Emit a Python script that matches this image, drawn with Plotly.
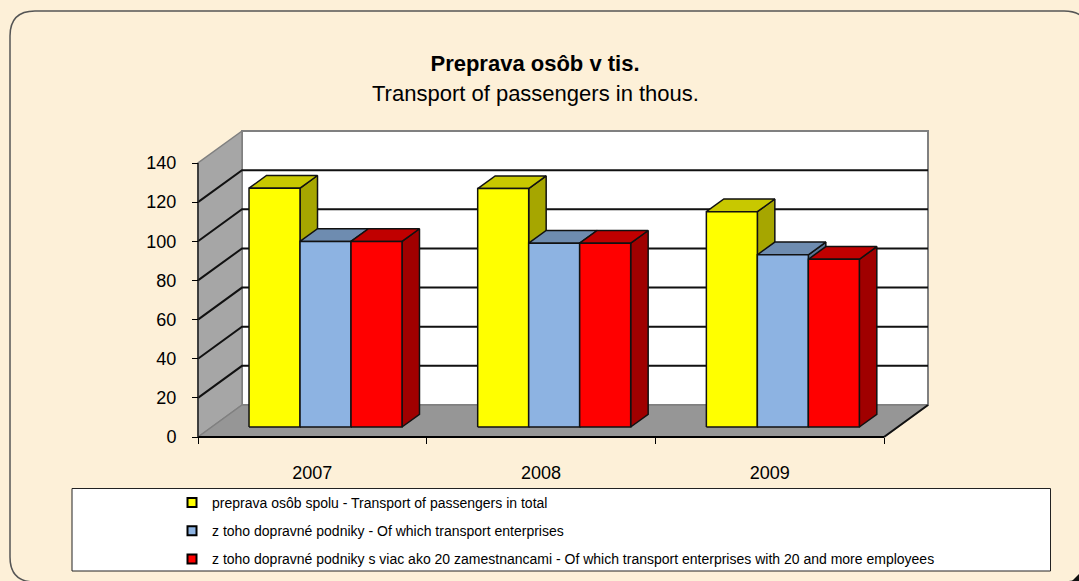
import plotly.graph_objects as go

# ---- data ----
years = ["2007", "2008", "2009"]
names = [
    "preprava osôb spolu - Transport of passengers in total",
    "z toho dopravné podniky - Of which transport enterprises",
    "z toho dopravné podniky s viac ako 20 zamestnancami - Of which transport enterprises with 20 and more employees",
]
total = [122.0, 121.8, 110.0]
enterprises = [94.8, 93.9, 88.0]
enterprises_20 = [94.8, 93.9, 85.7]
y_ticks = [0, 20, 40, 60, 80, 100, 120, 140]

series = [total, enterprises, enterprises_20]
front_colors = ["#FFFF00", "#8DB3E2", "#FF0000"]
top_colors = ["#C8C800", "#6E8CB0", "#C00000"]
side_colors = ["#A6A600", "#5C7594", "#A00000"]

# ---- page and 3D look ----
W, H = 1079, 581
L, R, T, B = 198, 884, 163, 437         # front axes box in page pixels
FONT = "Liberation Sans"
n = len(years)
top = y_ticks[-1]
PX_X = (R - L) / n                      # pixels per category
PX_Y = (B - T) / top                    # pixels per unit
DEPTH_X = 44 / PX_X                     # full floor depth, in axis units
DEPTH_Y = 32 / PX_Y
BAR_NEAR, BAR_FAR = 0.3125, 0.71        # bar depth as a share of the floor depth
BAR_START, BAR_W = 0.163, 0.223         # within one category


def proj(u, v, d):
    return u + d * DEPTH_X, v + d * DEPTH_Y


def add_polys(fig, polys, fill, line, width=1.5):
    xs, ys = [], []
    for poly in polys:
        for (u, v, d) in poly + [poly[0]]:
            x, y = proj(u, v, d)
            xs.append(x)
            ys.append(y)
        xs.append(None)
        ys.append(None)
    fig.add_trace(go.Scatter(x=xs, y=ys, mode="lines", fill="toself", fillcolor=fill,
                             line=dict(color=line, width=width), hoverinfo="skip",
                             showlegend=False))


def add_lines(fig, pts, color, width):
    xs, ys = [], []
    for (u, v, d) in pts:
        if u is None:
            xs.append(None)
            ys.append(None)
        else:
            x, y = proj(u, v, d)
            xs.append(x)
            ys.append(y)
    fig.add_trace(go.Scatter(x=xs, y=ys, mode="lines", line=dict(color=color, width=width),
                             hoverinfo="skip", showlegend=False))


fig = go.Figure()

# walls and floor
add_polys(fig, [[(0, 0, 1), (n, 0, 1), (n, top, 1), (0, top, 1)]], "#FFFFFF", "#808080", 2)
add_polys(fig, [[(0, 0, 0), (0, top, 0), (0, top, 1), (0, 0, 1)]], "#A6A6A6", "#808080", 1.5)
add_polys(fig, [[(0, 0, 0), (n, 0, 0), (n, 0, 1), (0, 0, 1)]], "#969696", "#808080", 1.5)

# gridlines along the left wall and the back wall
grid = []
for t in y_ticks[1:-1]:
    grid += [(0, t, 0), (0, t, 1), (n, t, 1), (None, None, None)]
add_lines(fig, grid, "#111111", 2)

# floor's right edge and the two front axis lines
add_lines(fig, [(n, 0, 0), (n, 0, 1)], "#111111", 2)
add_lines(fig, [(0, 0, 0), (n, 0, 0)], "#000000", 2)
add_lines(fig, [(0, 0, 0), (0, top, 0)], "#222222", 1.5)

# bars: side, top, front, painted left to right
for s, vals in enumerate(series):
    sides, tops, fronts = [], [], []
    for c, v in enumerate(vals):
        u0 = c + BAR_START + s * BAR_W
        u1 = u0 + BAR_W
        fronts.append([(u0, 0, BAR_NEAR), (u1, 0, BAR_NEAR), (u1, v, BAR_NEAR), (u0, v, BAR_NEAR)])
        tops.append([(u0, v, BAR_NEAR), (u1, v, BAR_NEAR), (u1, v, BAR_FAR), (u0, v, BAR_FAR)])
        sides.append([(u1, 0, BAR_NEAR), (u1, 0, BAR_FAR), (u1, v, BAR_FAR), (u1, v, BAR_NEAR)])
    add_polys(fig, sides, side_colors[s], "#111111")
    add_polys(fig, tops, top_colors[s], "#111111")
    add_polys(fig, fronts, front_colors[s], "#111111")

# legend entries
for s, name in enumerate(names):
    fig.add_trace(go.Scatter(x=[None], y=[None], mode="markers", name=name, legendgroup=str(s),
                             marker=dict(symbol="square", size=9, color=front_colors[s],
                                         line=dict(color="#000000", width=2))))


def px(x):
    return x / W


def py(y):
    return 1 - y / H


def frame_path(x0, y0, x1, y1, r):
    return (f"M {px(x0)},{py(y0 + r)} Q {px(x0)},{py(y0)} {px(x0 + r)},{py(y0)} "
            f"L {px(x1 - r)},{py(y0)} Q {px(x1)},{py(y0)} {px(x1)},{py(y0 + r)} "
            f"L {px(x1)},{py(y1 - r)} Q {px(x1)},{py(y1)} {px(x1 - r)},{py(y1)} "
            f"L {px(x0 + r)},{py(y1)} Q {px(x0)},{py(y1)} {px(x0)},{py(y1 - r)} Z")


shapes = [
    dict(type="path", xref="paper", yref="paper", layer="below",
         path=frame_path(10, 11, 1089, 582, 25),
         line=dict(color="#555555", width=1.5), fillcolor="#FDF0D8"),
    dict(type="path", xref="paper", yref="paper", layer="below",
         path=f"M {px(1072)},{py(581)} L {px(1079)},{py(574)} L {px(1079)},{py(581)} Z",
         line=dict(width=0), fillcolor="#111111"),
    dict(type="rect", xref="paper", yref="paper", layer="below",
         x0=px(72), x1=px(1050.5), y0=py(571), y1=py(488.5),
         line=dict(color="#222222", width=1), fillcolor="#FFFFFF"),
]

fig.update_layout(
    width=W, height=H, autosize=False,
    margin=dict(l=0, r=0, t=0, b=0, pad=0),
    paper_bgcolor="#FDF0D8", plot_bgcolor="rgba(0,0,0,0)",
    font=dict(family=FONT, color="#000000"),
    showlegend=True,
    title=dict(text="<b>Preprava osôb v tis.</b>", x=535 / W, xanchor="center", xref="paper",
               y=py(63), yanchor="middle", font=dict(family=FONT, size=22)),
    annotations=[dict(text="Transport of passengers in thous.", xref="paper", yref="paper",
                      x=px(535), y=py(94), xanchor="center", yanchor="middle", showarrow=False,
                      font=dict(family=FONT, size=22))],
    legend=dict(x=px(172), xanchor="left", y=py(487), yanchor="top",
                bgcolor="rgba(0,0,0,0)", borderwidth=0, itemwidth=30, tracegroupgap=7,
                traceorder="grouped", font=dict(family=FONT, size=14), itemclick=False,
                itemdoubleclick=False),
    shapes=shapes,
    xaxis=dict(range=[-L / PX_X, (W - L) / PX_X], anchor="free", position=1 - B / H,
               tickvals=[i + 0.5 for i in range(n)], ticktext=years, ticks="",
               showgrid=False, zeroline=False, showline=False,
               tickfont=dict(size=18), ticklabelstandoff=23,
               minor=dict(tickvals=list(range(n + 1)), ticks="outside", ticklen=6,
                          tickcolor="#000000", tickwidth=1, showgrid=False)),
    yaxis=dict(range=[-(H - B) / PX_Y, B / PX_Y], anchor="free", position=L / W,
               tickvals=y_ticks, ticks="outside", ticklen=6, tickwidth=1,
               tickcolor="#000000", showgrid=False, zeroline=False, showline=False,
               tickfont=dict(size=18), ticklabelstandoff=12),
)

fig.write_html("out.html", post_script="document.body.style.margin='0';",
               config={"displayModeBar": False})
